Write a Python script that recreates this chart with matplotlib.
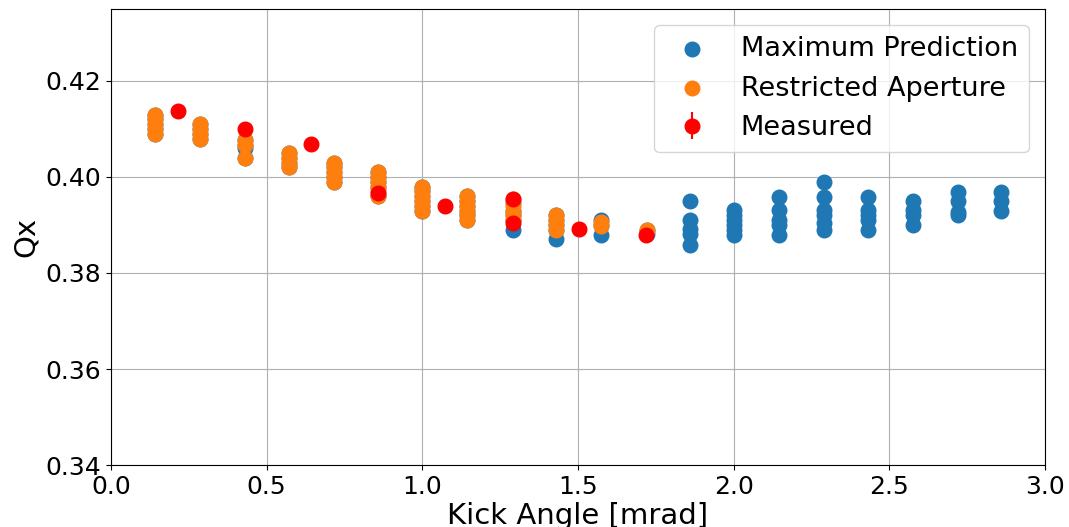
import matplotlib
matplotlib.use('Agg')
import matplotlib.pyplot as plt

# kick angles [mrad]
x_pred = [0.143, 0.286, 0.429, 0.572, 0.715, 0.858, 1.0, 1.145, 1.29, 1.43, 1.575, 1.72,
          1.86, 2.0, 2.145, 2.29, 2.43, 2.575, 2.72, 2.86]

# Maximum Prediction (tune values per kick)
q_max = [
    [0.413, 0.412, 0.411, 0.410, 0.409],
    [0.411, 0.410, 0.409, 0.408],
    [0.4077, 0.4067, 0.406, 0.404],
    [0.405, 0.404, 0.403, 0.402],
    [0.403, 0.402, 0.401, 0.400, 0.399],
    [0.401, 0.400, 0.399, 0.398, 0.396],
    [0.398, 0.397, 0.396, 0.395, 0.394, 0.393],
    [0.396, 0.395, 0.394, 0.393, 0.392, 0.391],
    [0.3945, 0.393, 0.392, 0.391, 0.389],
    [0.392, 0.391, 0.390, 0.389, 0.387],
    [0.391, 0.390, 0.388],
    [0.389, 0.3882],
    [0.3951, 0.391, 0.3891, 0.3882, 0.3858],
    [0.3931, 0.392, 0.391, 0.390, 0.389, 0.3879],
    [0.3959, 0.3931, 0.391, 0.390, 0.3879],
    [0.399, 0.3959, 0.3931, 0.3921, 0.3904, 0.389],
    [0.3959, 0.3931, 0.3921, 0.391, 0.389],
    [0.3951, 0.3931, 0.3921, 0.390],
    [0.3969, 0.3951, 0.3928, 0.3921],
    [0.3969, 0.3951, 0.3929],
]

# Restricted Aperture
x_restr = [0.143, 0.286, 0.429, 0.572, 0.715, 0.858, 1.0, 1.145, 1.29, 1.43, 1.575, 1.72]
q_restr = [
    [0.413, 0.412, 0.411, 0.410, 0.409],
    [0.411, 0.410, 0.409, 0.408],
    [0.4077, 0.4067, 0.404],
    [0.405, 0.404, 0.403, 0.402],
    [0.403, 0.402, 0.401, 0.400, 0.399],
    [0.401, 0.400, 0.399, 0.398, 0.397, 0.396],
    [0.398, 0.397, 0.396, 0.395, 0.394, 0.393],
    [0.396, 0.395, 0.394, 0.393, 0.392, 0.391],
    [0.3955, 0.394, 0.393, 0.392, 0.391],
    [0.392, 0.391, 0.390, 0.389],
    [0.3907, 0.3898],
    [0.389],
]

# Measured
x_meas = [0.215, 0.429, 0.644, 0.858, 1.073, 1.29, 1.29, 1.502, 1.717]
q_meas = [0.4137, 0.4099, 0.4069, 0.3967, 0.394, 0.3954, 0.3905, 0.3891, 0.3879]
q_err = [0.0004, 0.0003, 0.0003, 0.0003, 0.0003, 0.0003, 0.0003, 0.0003, 0.0003]


def expand(xs, qs):
    px, py = [], []
    for xv, col in zip(xs, qs):
        for q in col:
            px.append(xv)
            py.append(q)
    return px, py


plt.rcParams['font.family'] = 'DejaVu Sans'
fig = plt.figure(figsize=(10.69, 5.27), dpi=100)
ax = fig.add_axes([0.1038, 0.1176, 0.8738, 0.8654])

bx, by = expand(x_pred, q_max)
ox, oy = expand(x_restr, q_restr)
ax.scatter(bx, by, s=110, color='#1f77b4', label='Maximum Prediction', zorder=2)
ax.scatter(ox, oy, s=110, color='#ff7f0e', label='Restricted Aperture', zorder=3)
ax.errorbar(x_meas, q_meas, yerr=q_err, fmt='o', color='red', markersize=10.5,
            label='Measured', zorder=4)

ax.set_xlim(0, 3.0)
ax.set_ylim(0.34, 0.435)
ax.set_yticks([0.34, 0.36, 0.38, 0.40, 0.42])
ax.grid(True, color='#b0b0b0', linewidth=0.8)
ax.set_axisbelow(True)
ax.tick_params(labelsize=18)
ax.set_xlabel('Kick Angle [mrad]', fontsize=21, labelpad=2)
ax.set_ylabel('Qx', fontsize=21, labelpad=4)
ax.legend(loc='upper right', fontsize=19.5, borderaxespad=0.6)

fig.savefig('out.png', dpi=100)
